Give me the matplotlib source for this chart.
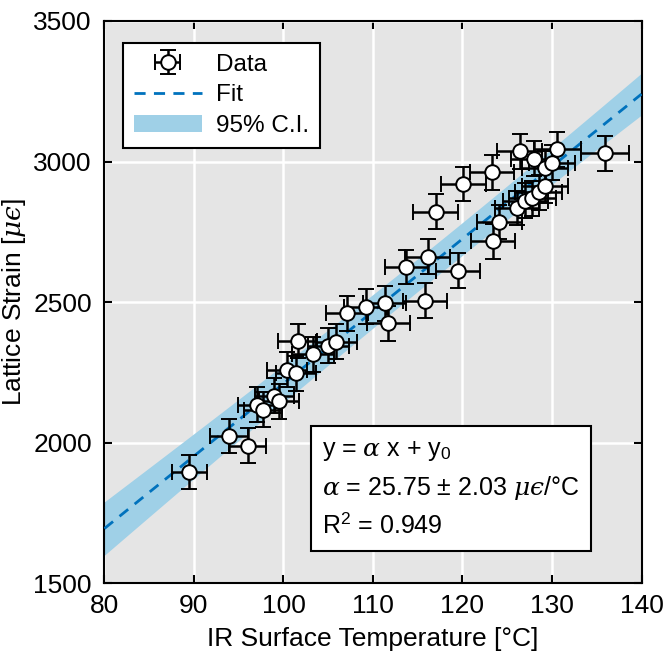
import matplotlib
matplotlib.use('Agg')
import matplotlib.pyplot as plt
import numpy as np

plt.rcParams['font.family'] = ['Liberation Sans', 'DejaVu Sans']
plt.rcParams['mathtext.fontset'] = 'custom'
plt.rcParams['mathtext.rm'] = 'Liberation Sans'
plt.rcParams['mathtext.it'] = 'DejaVu Serif:italic'
plt.rcParams['mathtext.sf'] = 'Liberation Sans'

# measured points (temperature [C], strain [microstrain])
temp = [89.5, 93.9, 96.0, 97.0, 97.7, 99.0, 99.5, 100.4, 101.4, 101.6,
        103.3, 105.0, 105.9, 107.1, 109.2, 111.3, 111.7, 113.7, 115.8, 116.1,
        117.0, 119.5, 120.1, 123.3, 123.4, 124.1, 126.1, 126.4, 127.0, 127.8,
        128.0, 128.5, 129.2, 129.2, 130.0, 130.6, 135.9]
strain = [1896, 2024, 1989, 2135, 2117, 2167, 2147, 2259, 2247, 2362,
          2315, 2345, 2360, 2460, 2483, 2496, 2425, 2625, 2505, 2662,
          2822, 2612, 2920, 2962, 2716, 2785, 2835, 3036, 2860, 2870,
          3010, 2890, 2914, 2976, 2996, 3043, 3030]
temp_err = [2.0, 2.1, 2.1, 2.1, 2.1, 2.2, 2.2, 2.2, 2.2, 2.2,
            2.3, 2.3, 2.3, 2.3, 2.4, 2.4, 2.4, 2.4, 2.5, 2.5,
            2.5, 2.5, 2.5, 2.5, 2.5, 2.5, 2.5, 2.5, 2.5, 2.6,
            2.6, 2.6, 2.6, 2.6, 2.6, 2.6, 2.7]
strain_err = [62] * len(temp)

# linear fit y = alpha*x + y0 and its 95% confidence band
alpha = 25.75
alpha_ci = 2.03
y0 = -365
x_mean = 117.0
ci_at_mean = 58
r2 = 0.949

fig = plt.figure(figsize=(6.65, 6.54), dpi=100)
ax = fig.add_axes([0.157, 0.108, 0.8077, 0.860])
ax.set_facecolor('#e5e5e5')

xf = np.linspace(80, 140, 200)
yf = alpha * xf + y0
hw = np.sqrt(ci_at_mean**2 + (alpha_ci * (xf - x_mean))**2)
band = ax.fill_between(xf, yf - hw, yf + hw, color='#9fd0e7', lw=0, zorder=2)
fit, = ax.plot(xf, yf, '--', color='#0072BD', lw=2, dashes=(4, 3), zorder=3)

data = ax.errorbar(temp, strain, xerr=temp_err, yerr=strain_err, fmt='o',
                   color='black', ecolor='black', elinewidth=1.8, capsize=6,
                   capthick=1.8, mfc='white', mec='black', mew=1.4, ms=10.5,
                   zorder=4)

ax.set_xlim(80, 140)
ax.set_ylim(1500, 3500)
ax.set_xticks(range(80, 141, 10))
ax.set_yticks(range(1500, 3501, 500))
ax.grid(True, color='white', lw=1.8, zorder=0)
ax.set_axisbelow(True)
ax.tick_params(direction='in', top=True, right=True, labelsize=19,
               length=6, width=1.5)
ax.tick_params(axis='x', pad=8)
ax.tick_params(axis='y', pad=9)
for s in ax.spines.values():
    s.set_linewidth(1.5)

ax.set_xlabel('IR Surface Temperature [°C]', fontsize=19, labelpad=6)
ax.set_ylabel('Lattice Strain [$\\mu\u03f5$]', fontsize=19)
ax.yaxis.set_label_coords(-0.143, 0.5)

leg = ax.legend([data, fit, band], ['Data', 'Fit', '95% C.I.'],
                loc='upper left', bbox_to_anchor=(0.034, 0.961),
                borderaxespad=0, fontsize=17.5, fancybox=False,
                framealpha=1, edgecolor='black', handlelength=2.8,
                handletextpad=0.6, borderpad=0.45, labelspacing=0.35)
leg.get_frame().set_linewidth(1.5)

txt = ('y = $\\alpha$ x + y$_0$\n'
       '$\\alpha$ = %.2f $\\pm$ %.2f $\\mu\u03f5$/°C\n'
       'R$^2$ = %.3f' % (alpha, alpha_ci, r2))
ax.text(0.405, 0.257, txt, transform=ax.transAxes, fontsize=18,
        va='top', ha='left', linespacing=1.55,
        bbox=dict(boxstyle='square,pad=0.45', fc='white', ec='black', lw=1.5),
        zorder=6)

plt.savefig('out.png')
